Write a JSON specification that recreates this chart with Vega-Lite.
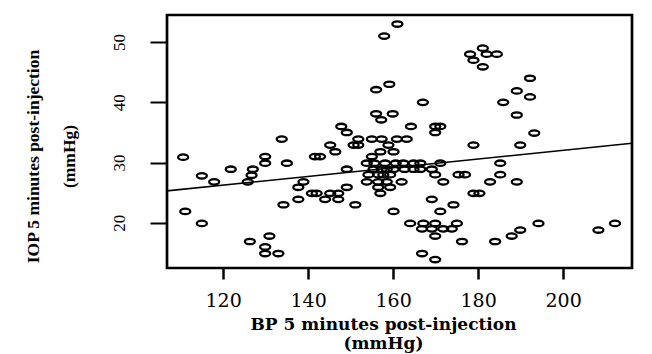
{
  "$schema": "https://vega.github.io/schema/vega-lite/v6.json",
  "width": 465,
  "height": 253,
  "autosize": {"type": "none"},
  "padding": {"left": 167, "top": 15, "right": 20, "bottom": 86},
  "background": "white",
  "config": {"view": {"stroke": "black", "strokeWidth": 2.7}},
  "datasets": {
    "points": [
      {"bp": 110.6, "iop": 30.9}, {"bp": 115.0, "iop": 27.8}, {"bp": 117.9, "iop": 26.8}, {"bp": 121.8, "iop": 28.9},
      {"bp": 127.0, "iop": 28.9}, {"bp": 126.7, "iop": 27.9}, {"bp": 125.8, "iop": 26.8}, {"bp": 111.1, "iop": 21.9},
      {"bp": 115.0, "iop": 19.9}, {"bp": 126.3, "iop": 16.9}, {"bp": 130.9, "iop": 17.8}, {"bp": 129.9, "iop": 16.0},
      {"bp": 129.9, "iop": 14.9}, {"bp": 133.0, "iop": 14.9}, {"bp": 129.9, "iop": 31.0}, {"bp": 129.9, "iop": 29.9},
      {"bp": 135.0, "iop": 29.9}, {"bp": 138.9, "iop": 26.8}, {"bp": 137.7, "iop": 25.9}, {"bp": 140.9, "iop": 24.9},
      {"bp": 142.0, "iop": 24.9}, {"bp": 145.2, "iop": 24.9}, {"bp": 147.1, "iop": 24.9}, {"bp": 149.1, "iop": 25.9},
      {"bp": 137.7, "iop": 23.9}, {"bp": 144.0, "iop": 23.9}, {"bp": 147.1, "iop": 23.9}, {"bp": 134.2, "iop": 23.0},
      {"bp": 151.1, "iop": 23.0}, {"bp": 149.1, "iop": 28.9}, {"bp": 141.6, "iop": 31.0}, {"bp": 142.8, "iop": 31.0},
      {"bp": 146.4, "iop": 31.8}, {"bp": 145.2, "iop": 32.9}, {"bp": 150.7, "iop": 32.9}, {"bp": 151.8, "iop": 32.9},
      {"bp": 161.0, "iop": 53.0}, {"bp": 157.9, "iop": 51.0}, {"bp": 159.1, "iop": 43.0}, {"bp": 156.0, "iop": 42.1},
      {"bp": 167.0, "iop": 40.0}, {"bp": 156.0, "iop": 38.1}, {"bp": 159.9, "iop": 38.1}, {"bp": 157.2, "iop": 37.1},
      {"bp": 147.8, "iop": 36.0}, {"bp": 149.1, "iop": 35.0}, {"bp": 164.2, "iop": 36.0}, {"bp": 169.9, "iop": 36.0},
      {"bp": 171.1, "iop": 36.0}, {"bp": 169.9, "iop": 35.0}, {"bp": 133.8, "iop": 33.9}, {"bp": 151.8, "iop": 33.9},
      {"bp": 155.0, "iop": 33.9}, {"bp": 157.3, "iop": 33.9}, {"bp": 160.9, "iop": 33.9}, {"bp": 163.2, "iop": 33.9},
      {"bp": 158.9, "iop": 32.9}, {"bp": 153.8, "iop": 29.9}, {"bp": 155.0, "iop": 31.0}, {"bp": 157.0, "iop": 31.8},
      {"bp": 160.1, "iop": 31.8}, {"bp": 155.4, "iop": 28.9}, {"bp": 157.3, "iop": 28.9}, {"bp": 158.5, "iop": 28.9},
      {"bp": 160.1, "iop": 28.9}, {"bp": 155.6, "iop": 29.9}, {"bp": 158.1, "iop": 29.9}, {"bp": 160.6, "iop": 29.9},
      {"bp": 162.4, "iop": 29.9}, {"bp": 164.8, "iop": 29.9}, {"bp": 166.4, "iop": 29.9}, {"bp": 171.1, "iop": 29.9},
      {"bp": 162.7, "iop": 28.9}, {"bp": 164.8, "iop": 28.9}, {"bp": 166.4, "iop": 28.9}, {"bp": 169.1, "iop": 28.9},
      {"bp": 154.2, "iop": 28.0}, {"bp": 156.5, "iop": 28.0}, {"bp": 157.7, "iop": 28.0}, {"bp": 159.3, "iop": 28.0},
      {"bp": 169.9, "iop": 28.0}, {"bp": 171.8, "iop": 26.8}, {"bp": 153.8, "iop": 26.8}, {"bp": 156.5, "iop": 26.8},
      {"bp": 158.5, "iop": 26.8}, {"bp": 162.0, "iop": 26.8}, {"bp": 156.5, "iop": 25.9}, {"bp": 159.3, "iop": 25.9},
      {"bp": 157.0, "iop": 24.9}, {"bp": 169.1, "iop": 23.9}, {"bp": 171.1, "iop": 21.9}, {"bp": 160.1, "iop": 21.9},
      {"bp": 164.0, "iop": 19.9}, {"bp": 167.1, "iop": 19.9}, {"bp": 169.9, "iop": 19.9}, {"bp": 166.8, "iop": 19.0},
      {"bp": 169.1, "iop": 19.0}, {"bp": 171.8, "iop": 19.0}, {"bp": 169.9, "iop": 17.8}, {"bp": 166.8, "iop": 14.9},
      {"bp": 169.9, "iop": 13.9}, {"bp": 181.1, "iop": 49.0}, {"bp": 178.1, "iop": 48.0}, {"bp": 182.0, "iop": 48.0},
      {"bp": 184.4, "iop": 48.0}, {"bp": 178.9, "iop": 47.0}, {"bp": 181.1, "iop": 45.9}, {"bp": 192.2, "iop": 44.0},
      {"bp": 189.1, "iop": 41.9}, {"bp": 192.2, "iop": 40.9}, {"bp": 185.9, "iop": 40.0}, {"bp": 189.1, "iop": 37.9},
      {"bp": 193.2, "iop": 34.9}, {"bp": 178.9, "iop": 32.9}, {"bp": 189.9, "iop": 32.9}, {"bp": 185.2, "iop": 29.9},
      {"bp": 175.4, "iop": 28.0}, {"bp": 176.9, "iop": 28.0}, {"bp": 185.2, "iop": 28.0}, {"bp": 182.8, "iop": 26.8},
      {"bp": 189.1, "iop": 26.8}, {"bp": 178.9, "iop": 24.9}, {"bp": 180.3, "iop": 24.9}, {"bp": 174.2, "iop": 23.0},
      {"bp": 175.0, "iop": 19.9}, {"bp": 173.8, "iop": 19.0}, {"bp": 176.2, "iop": 16.9}, {"bp": 184.0, "iop": 16.9},
      {"bp": 187.9, "iop": 17.8}, {"bp": 189.9, "iop": 18.8}, {"bp": 194.2, "iop": 19.9}, {"bp": 208.3, "iop": 18.8},
      {"bp": 212.2, "iop": 19.9}
    ],
    "fit": [
      {"bp": 106.8, "iop": 25.3},
      {"bp": 216.2, "iop": 33.2}
    ]
  },
  "layer": [
    {
      "data": {"name": "points"},
      "mark": {
        "type": "point",
        "shape": "M-1,0A1,0.54,0,1,0,1,0A1,0.54,0,1,0,-1,0Z",
        "size": 100,
        "filled": false,
        "stroke": "black",
        "strokeWidth": 2.3,
        "opacity": 1
      },
      "encoding": {
        "x": {
          "field": "bp",
          "type": "quantitative",
          "scale": {"domain": [106.8, 216.2], "nice": false, "zero": false},
          "axis": {
            "values": [120, 140, 160, 180, 200],
            "title": ["BP 5 minutes post-injection", "(mmHg)"],
            "domain": false,
            "grid": false,
            "ticks": true,
            "tickSize": 11,
            "tickWidth": 2.5,
            "tickColor": "black",
            "labelFont": "DejaVu Serif",
            "labelFontSize": 19,
            "labelColor": "black",
            "labelPadding": 27,
            "labelBaseline": "alphabetic",
            "labelFlush": false,
            "labelOverlap": false,
            "titleFont": "DejaVu Serif",
            "titleFontWeight": "bold",
            "titleFontSize": 17,
            "titleColor": "black",
            "titleLineHeight": 19,
            "titleX": 216,
            "titleY": 61,
            "titleAlign": "center",
            "titleBaseline": "alphabetic"
          }
        },
        "y": {
          "field": "iop",
          "type": "quantitative",
          "scale": {"domain": [12.5, 54.5], "nice": false, "zero": false},
          "axis": {
            "values": [20, 30, 40, 50],
            "title": ["IOP 5 minutes post-injection", "           (mmHg)"],
            "domain": false,
            "grid": false,
            "ticks": true,
            "tickSize": 17,
            "tickWidth": 2,
            "tickColor": "black",
            "labelAngle": 270,
            "labelAlign": "center",
            "labelBaseline": "alphabetic",
            "labelPadding": 26,
            "labelFont": "Liberation Serif",
            "labelFontSize": 17,
            "labelColor": "black",
            "labelOverlap": false,
            "titleFont": "Liberation Serif",
            "titleFontWeight": "bold",
            "titleFontSize": 17.5,
            "titleColor": "black",
            "titleAngle": 270,
            "titleX": -129,
            "titleY": 141,
            "titleAlign": "center",
            "titleBaseline": "alphabetic",
            "titleLineHeight": 36.6
          }
        }
      }
    },
    {
      "data": {"name": "fit"},
      "mark": {"type": "line", "stroke": "black", "strokeWidth": 1.6},
      "encoding": {
        "x": {"field": "bp", "type": "quantitative"},
        "y": {"field": "iop", "type": "quantitative"}
      }
    }
  ]
}
